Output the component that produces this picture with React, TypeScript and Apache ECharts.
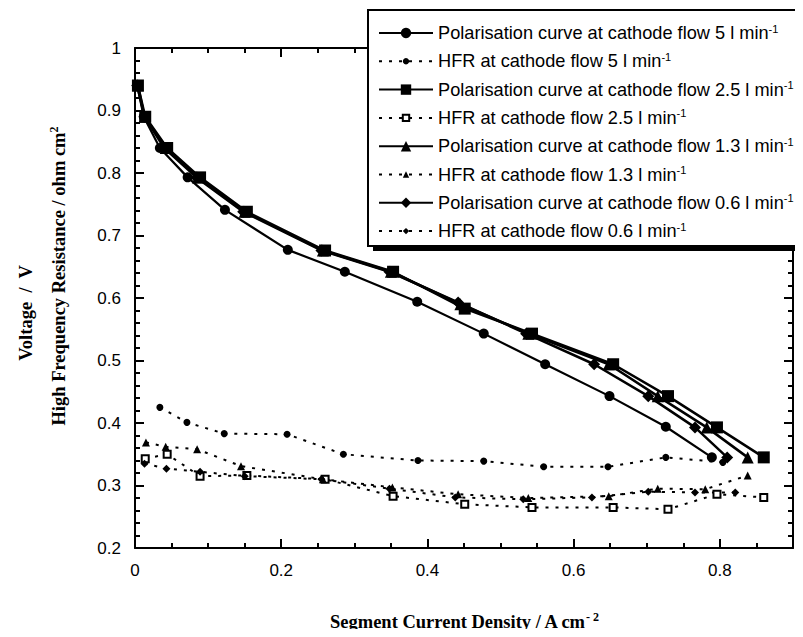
import React, { useEffect, useRef } from "react";
import * as echarts from "echarts";

// Polarisation curves (current density A/cm2, voltage V)
const pol5X = [0.003, 0.012, 0.034, 0.072, 0.123, 0.209, 0.287, 0.386, 0.477, 0.561, 0.649, 0.726, 0.789];
const pol5Y = [0.94, 0.89, 0.84, 0.793, 0.741, 0.677, 0.642, 0.594, 0.543, 0.494, 0.443, 0.394, 0.345];
const pol25X = [0.004, 0.014, 0.044, 0.089, 0.153, 0.26, 0.353, 0.451, 0.543, 0.654, 0.729, 0.796, 0.86];
const pol25Y = [0.94, 0.89, 0.84, 0.793, 0.738, 0.676, 0.642, 0.583, 0.543, 0.494, 0.443, 0.393, 0.345];
const pol13X = [0.004, 0.013, 0.042, 0.086, 0.15, 0.257, 0.35, 0.445, 0.538, 0.648, 0.715, 0.782, 0.838];
const pol13Y = [0.94, 0.89, 0.84, 0.793, 0.738, 0.676, 0.642, 0.59, 0.543, 0.494, 0.443, 0.393, 0.345];
const pol06X = [0.003, 0.013, 0.04, 0.084, 0.148, 0.255, 0.348, 0.442, 0.535, 0.628, 0.702, 0.766, 0.81];
const pol06Y = [0.94, 0.89, 0.84, 0.793, 0.738, 0.676, 0.642, 0.593, 0.543, 0.494, 0.443, 0.393, 0.345];

// High frequency resistance (ohm cm2)
const hfr5X = [0.034, 0.071, 0.122, 0.208, 0.285, 0.387, 0.477, 0.559, 0.647, 0.726, 0.804];
const hfr5Y = [0.425, 0.401, 0.383, 0.382, 0.35, 0.34, 0.339, 0.33, 0.33, 0.345, 0.337];
const hfr25X = [0.014, 0.044, 0.089, 0.153, 0.26, 0.353, 0.451, 0.543, 0.654, 0.729, 0.796, 0.86];
const hfr25Y = [0.343, 0.35, 0.315, 0.316, 0.31, 0.283, 0.27, 0.265, 0.265, 0.262, 0.286, 0.281];
const hfr13X = [0.015, 0.042, 0.085, 0.145, 0.257, 0.352, 0.442, 0.538, 0.648, 0.715, 0.78, 0.838];
const hfr13Y = [0.369, 0.362, 0.358, 0.331, 0.31, 0.297, 0.286, 0.28, 0.283, 0.295, 0.294, 0.316];
const hfr06X = [0.013, 0.043, 0.089, 0.15, 0.255, 0.348, 0.438, 0.531, 0.625, 0.702, 0.766, 0.821];
const hfr06Y = [0.335, 0.327, 0.322, 0.315, 0.31, 0.295, 0.281, 0.278, 0.281, 0.29, 0.289, 0.289];

const names = [
  "Polarisation curve at cathode flow 5 l min-1",
  "HFR at cathode flow 5 l min-1",
  "Polarisation curve at cathode flow 2.5 l min-1",
  "HFR at cathode flow 2.5 l min-1",
  "Polarisation curve at cathode flow 1.3 l min-1",
  "HFR at cathode flow 1.3 l min-1",
  "Polarisation curve at cathode flow 0.6 l min-1",
  "HFR at cathode flow 0.6 l min-1",
];

const xTicks = [0, 0.2, 0.4, 0.6, 0.8];

const zip = (xs: number[], ys: number[]) => xs.map((x, i) => [x, ys[i]]);

const FONT = "Liberation Sans, Arial, Helvetica, sans-serif";
const SERIF = "Liberation Serif, Times New Roman, serif";

export default function App() {
  const ref = useRef<HTMLDivElement>(null);
  useEffect(() => {
    if (!ref.current) return;
    const chart = echarts.init(ref.current, undefined, { renderer: "svg" });

    const pol = (name: string, xs: number[], ys: number[], symbol: string, size: number, width = 2.5) => ({
      name,
      type: "line",
      data: zip(xs, ys),
      symbol,
      symbolSize: size,
      showSymbol: true,
      lineStyle: { color: "#000", width, type: "solid" },
      itemStyle: { color: "#000", borderColor: "#000", borderWidth: 0 },
      z: 3,
    });
    const hfr = (name: string, xs: number[], ys: number[], symbol: string, size: number, empty = false) => ({
      name,
      type: "line",
      data: zip(xs, ys),
      symbol,
      symbolSize: size,
      showSymbol: true,
      lineStyle: { color: "#000", width: 2, type: [3, 7] },
      itemStyle: empty
        ? { color: "#fff", borderColor: "#000", borderWidth: 2 }
        : { color: "#000", borderColor: "#000", borderWidth: 0 },
      z: 2,
    });

    const axisCommon = {
      type: "value",
      axisLine: { show: true, onZero: false, lineStyle: { color: "#000", width: 2 } },
      splitLine: { show: false },
    };
    const tick = { show: true, inside: true, length: 9, lineStyle: { color: "#000", width: 2 } };
    const minor = (n: number) => ({ show: true, splitNumber: n, length: 5, lineStyle: { color: "#000", width: 2 } });

    const rowH = 28.3;
    const legends = names.map((name, i) => ({
      show: true,
      orient: "vertical",
      left: 378,
      top: 23 + i * rowH,
      padding: 0,
      itemGap: 0,
      itemWidth: 54,
      itemHeight: i % 2 === 0 ? 13 : 8,
      data: [name],
      selectedMode: false,
      formatter: (n: string) => n.replace(/ min-1$/, " min{sup|-1}"),
      textStyle: {
        color: "#000",
        fontFamily: FONT,
        fontSize: 18.2,
        lineHeight: 20,
        rich: {
          sup: { fontSize: 11, fontFamily: FONT, color: "#000", lineHeight: 20, verticalAlign: "top", padding: [0, 0, 9, 0] },
        },
      },
      z: 6,
    }));

    const option: any = {
      animation: false,
      backgroundColor: "#fff",
      grid: { left: 135, right: 10, top: 48, bottom: 89, containLabel: false },
      xAxis: [
        {
          ...axisCommon,
          min: 0,
          max: 0.9,
          interval: 0.2,
          position: "bottom",
          axisTick: tick,
          minorTick: minor(4),
          axisLabel: {
            show: true,
            margin: 14,
            color: "#000",
            fontFamily: FONT,
            fontSize: 17,
            formatter: (v: number) => (xTicks.some((t) => Math.abs(t - v) < 1e-9) ? String(+v.toFixed(1)) : ""),
            showMaxLabel: false,
          },
        },
        {
          ...axisCommon,
          min: 0,
          max: 0.9,
          interval: 0.2,
          position: "top",
          axisTick: tick,
          minorTick: minor(4),
          axisLabel: { show: false },
        },
      ],
      yAxis: [
        {
          ...axisCommon,
          min: 0.2,
          max: 1,
          interval: 0.1,
          position: "left",
          axisTick: tick,
          minorTick: minor(5),
          axisLabel: {
            show: true,
            margin: 14,
            color: "#000",
            fontFamily: FONT,
            fontSize: 17,
            formatter: (v: number) => String(+v.toFixed(1)),
          },
        },
        {
          ...axisCommon,
          min: 0.2,
          max: 1,
          interval: 0.1,
          position: "right",
          axisTick: tick,
          minorTick: minor(5),
          axisLabel: { show: false },
        },
      ],
      legend: legends,
      graphic: [
        { type: "rect", z: 4, shape: { x: 373, y: 14, width: 460, height: 237 }, style: { fill: "#000" } },
        {
          type: "rect",
          z: 5,
          shape: { x: 368, y: 10, width: 460, height: 236 },
          style: { fill: "#fff", stroke: "#000", lineWidth: 2 },
        },
        {
          type: "text",
          x: 26,
          y: 313,
          rotation: Math.PI / 2,
          style: {
            text: "Voltage  /  V",
            fontFamily: SERIF,
            fontWeight: "bold",
            fontSize: 18.5,
            fill: "#000",
            align: "center",
            verticalAlign: "middle",
          },
        },
        {
          type: "text",
          x: 59,
          y: 276,
          rotation: Math.PI / 2,
          style: {
            text: "High Frequency Resistance / ohm cm{sup|2}",
            fontFamily: SERIF,
            fontWeight: "bold",
            fontSize: 18.5,
            fill: "#000",
            align: "center",
            verticalAlign: "middle",
            rich: { sup: { fontSize: 12, fontFamily: SERIF, fontWeight: "bold", verticalAlign: "top", padding: [0, 0, 10, 0] } },
          },
        },
        {
          type: "text",
          x: 464,
          y: 622,
          style: {
            text: "Segment Current Density / A cm{sup|- 2}",
            fontFamily: SERIF,
            fontWeight: "bold",
            fontSize: 18.5,
            fill: "#000",
            align: "center",
            verticalAlign: "middle",
            rich: { sup: { fontSize: 12, fontFamily: SERIF, fontWeight: "bold", verticalAlign: "top", padding: [0, 0, 10, 0] } },
          },
        },
      ],
      series: [
        pol(names[0], pol5X, pol5Y, "circle", 10, 2.2),
        hfr(names[1], hfr5X, hfr5Y, "circle", 7),
        pol(names[2], pol25X, pol25Y, "rect", 12),
        hfr(names[3], hfr25X, hfr25Y, "rect", 7, true),
        pol(names[4], pol13X, pol13Y, "triangle", 12),
        hfr(names[5], hfr13X, hfr13Y, "triangle", 8),
        pol(names[6], pol06X, pol06Y, "diamond", 12),
        hfr(names[7], hfr06X, hfr06Y, "diamond", 8),
      ],
    };
    chart.setOption(option);
    return () => chart.dispose();
  }, []);
  return <div ref={ref} style={{ width: 803, height: 637, margin: -8 }} />;
}
